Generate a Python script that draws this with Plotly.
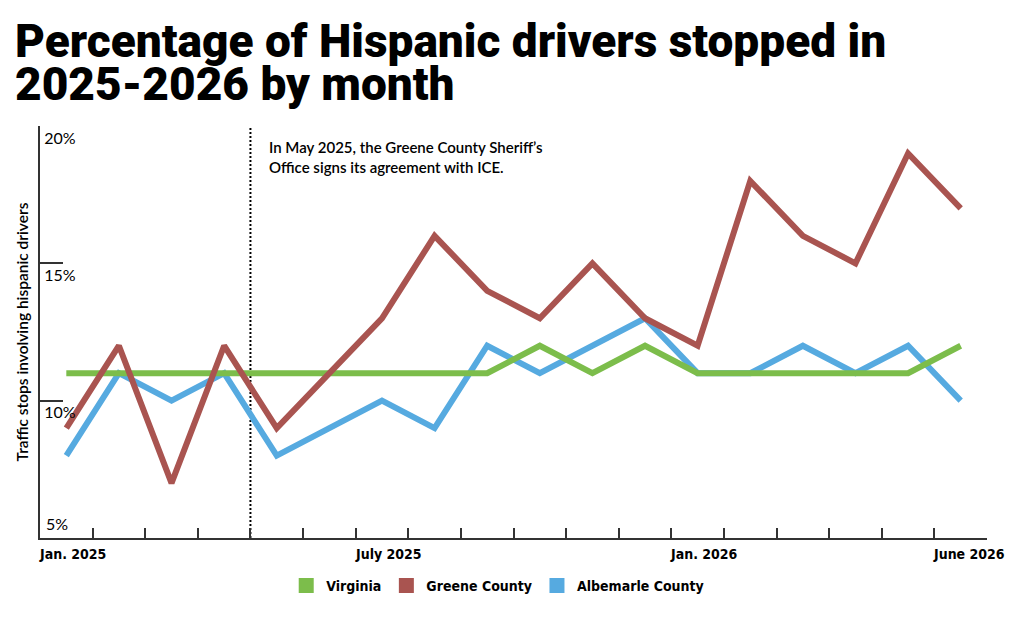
import plotly.graph_objects as go

# ---- data ----
months = ["Jan. 2025", "Feb. 2025", "Mar. 2025", "Apr. 2025", "May 2025", "June 2025",
          "July 2025", "Aug. 2025", "Sept. 2025", "Oct. 2025", "Nov. 2025", "Dec. 2025",
          "Jan. 2026", "Feb. 2026", "Mar. 2026", "Apr. 2026", "May 2026", "June 2026"]
virginia = [11, 11, 11, 11, 11, 11, 11, 11, 11, 12, 11, 12, 11, 11, 11, 11, 11, 12]
greene = [9, 12, 7, 12, 9, 11, 13, 16, 14, 13, 15, 13, 12, 18, 16, 15, 19, 17]
albemarle = [8, 11, 10, 11, 8, 9, 10, 9, 12, 11, 12, 13, 11, 11, 12, 11, 12, 10]
labeled_months = ["Jan. 2025", "July 2025", "Jan. 2026", "June 2026"]
y_ticks = [10, 15, 20]
y_tick_labels = ["10%", "15%", "20%"]
y_bottom_label = "5%"
event_month = "May 2025"
event_text = "In May 2025, the Greene County Sheriff\u2019s<br>Office signs its agreement with ICE."
title_line1 = "Percentage of Hispanic drivers stopped in"
title_line2 = "2025-2026 by month"
y_title = "Traffic stops involving hispanic drivers"

colors = {"Virginia": "#7cbd4b", "Greene County": "#a95450", "Albemarle County": "#56aae0"}
series = {"Virginia": virginia, "Greene County": greene, "Albemarle County": albemarle}

xs = list(range(len(months)))

TITLE_FONT = "Roboto, Inter, sans-serif"
TICK_FONT = "Liberation Sans Narrow, DejaVu Sans Condensed, sans-serif"
TEXT_FONT = "Lato, Open Sans, sans-serif"

W, H = 1024, 622
ML, MR, MT, MB = 40, 37, 126, 84
plot_w = W - ML - MR
plot_h = H - MT - MB

fig = go.Figure()
# draw order: Albemarle, Virginia, Greene on top
for name in ["Albemarle County", "Virginia", "Greene County"]:
    fig.add_trace(go.Scatter(x=xs, y=series[name], mode="lines", name=name,
                             line=dict(color=colors[name], width=6),
                             showlegend=False, hoverinfo="x+y"))
# legend swatches (squares)
for name in ["Virginia", "Greene County", "Albemarle County"]:
    fig.add_trace(go.Scatter(x=[None], y=[None], mode="markers", name=name,
                             marker=dict(symbol="square", size=15, color=colors[name]),
                             showlegend=True))

label_pos = [months.index(m) - 0.5 for m in labeled_months]
event_x = months.index(event_month) - 0.5

# month labels, left-aligned at the start of each labelled month slot
month_label_annotations = [
    dict(text=lab, xref="x", yref="paper", x=pos, y=0, xanchor="left", yanchor="top",
         xshift=-3, yshift=-6, showarrow=False,
         font=dict(family=TICK_FONT, size=14, color="black", weight="bold"))
    for lab, pos in zip(labeled_months, label_pos)
]

fig.update_layout(
    width=W, height=H,
    margin=dict(l=ML, r=MR, t=MT, b=MB),
    paper_bgcolor="white", plot_bgcolor="white",
    title=dict(text=title_line1, x=15 / W, xanchor="left", xref="container",
               y=1 - 25 / H, yanchor="top", yref="container",
               font=dict(family=TITLE_FONT, size=46, color="black", weight=900)),
    xaxis=dict(range=[-0.5, len(months) - 0.5], showline=True, linecolor="#333333", linewidth=1.5,
               showgrid=False, zeroline=False,
               tickmode="array", tickvals=label_pos, showticklabels=False,
               ticks="inside", ticklen=10, tickcolor="#333333", tickwidth=1.5,
               minor=dict(tick0=0.5, dtick=1, ticks="inside", ticklen=10,
                          tickcolor="#333333", tickwidth=1.5),
               fixedrange=True),
    yaxis=dict(range=[5, 20], showline=True, linecolor="#333333", linewidth=1.5,
               showgrid=False, zeroline=False,
               tickmode="array", tickvals=y_ticks, ticktext=y_tick_labels,
               ticks="inside", ticklen=23, tickcolor="#333333", tickwidth=1.5,
               ticklabelposition="inside bottom", ticklabelstandoff=4,
               tickfont=dict(family=TEXT_FONT, size=16, color="black"),
               title=dict(text=y_title, standoff=12,
                          font=dict(family=TEXT_FONT, size=15.5, color="black", weight=600)),
               fixedrange=True),
    legend=dict(orientation="h", x=0.26, xanchor="left", y=-0.116, yanchor="middle",
                font=dict(family=TICK_FONT, size=14, color="black", weight="bold"),
                itemclick=False, itemdoubleclick=False),
    shapes=[dict(type="line", xref="x", yref="paper", x0=event_x, x1=event_x, y0=0, y1=1,
                 line=dict(color="black", width=2, dash="2px,2px"), layer="below")],
    annotations=[
        dict(text=title_line2, xref="paper", yref="paper", x=(15 - ML) / plot_w,
             y=1 + (MT - 84) / plot_h, xanchor="left", yanchor="middle", showarrow=False,
             xshift=-2, font=dict(family=TITLE_FONT, size=46, color="black", weight=900)),
        dict(text=event_text, xref="x", yref="paper", x=event_x, y=1, xanchor="left",
             yanchor="top", xshift=17, yshift=-10, showarrow=False, align="left",
             font=dict(family=TEXT_FONT, size=15, color="black", weight=600)),
        dict(text=y_bottom_label, xref="paper", yref="y", x=0, y=5, xanchor="left",
             yanchor="bottom", xshift=4, yshift=3, showarrow=False,
             font=dict(family=TEXT_FONT, size=16, color="black")),
    ] + month_label_annotations,
)

fig.write_html("out.html", config={"displayModeBar": False},
               post_script="document.body.style.margin='0px';")
